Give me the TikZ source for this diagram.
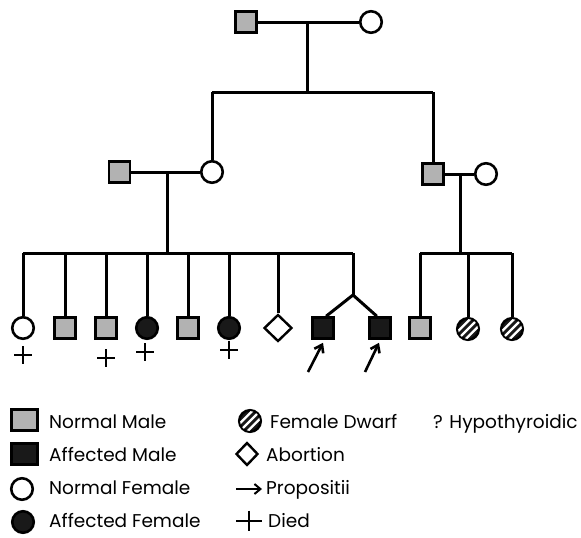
\documentclass[tikz,border=0pt]{standalone}
\usepackage{fontspec}
\setmainfont{Poppins}
\usetikzlibrary{shapes.geometric,arrows.meta,calc}
\begin{document}
\begin{tikzpicture}[x=1pt,y=-1pt,
  male/.style={rectangle,draw,line width=2.6pt,fill=gray!60,minimum size=21pt,inner sep=0pt},
  amale/.style={male,fill=black!90},
  female/.style={circle,draw,line width=2.6pt,fill=white,minimum size=21.5pt,inner sep=0pt},
  afemale/.style={female,fill=black!90},
  dwarf/.style={female,fill=black!90},
  abortion/.style={diamond,draw,line width=2.4pt,minimum width=28pt,minimum height=27pt,inner sep=0pt},
  link/.style={line width=3pt},
  prop/.style={line width=2.6pt,-{Straight Barb[length=7pt,width=10pt]}},
  lbl/.style={anchor=base west,font=\fontsize{18.5}{20}\selectfont,inner sep=0pt},
  deathmark/.pic={\draw[line width=2.6pt] (-9,0) -- (9,0) (0,-9) -- (0,9);},
]
\useasboundingbox (0,0) rectangle (581,538);
\newcommand\dwarfstripes[1]{%
  \begin{scope}[shift={(#1.center)}]
    \clip (0,0) circle (10);
    \foreach \d in {-5.5,0,5.5}
      \draw[white,line width=2.2pt] (\d*0.7071-15,\d*0.7071+15) -- ++(30,-30);
  \end{scope}}

% Generation I
\node[male] (gf) at (246,22) {};
\node[female] (gm) at (371,22) {};
\draw[link] (gf) -- (gm);
\coordinate (mar1) at (307,22);
\coordinate (sib1) at (307,92);
\coordinate (sib1l) at (212,92);
\coordinate (sib1r) at (433,92);
\draw[link] (mar1) -- (sib1);
\draw[link] (sib1l) -- (sib1r);

% Generation II
\node[male] (f2) at (119.5,172) {};
\node[female] (m2) at (212,172) {};
\node[male] (f3) at (433,174) {};
\node[female] (m3) at (486,174) {};
\draw[link] (sib1l) -- (m2);
\draw[link] (sib1r) -- (f3);
\draw[link] (f2) -- (m2);
\draw[link] (f3) -- (m3);
\coordinate (mar2) at (167,172);
\coordinate (sib2) at (167,253);
\coordinate (mar3) at (460,174);
\coordinate (sib3) at (460,253);
\draw[link] (mar2) -- (sib2);
\draw[link] (mar3) -- (sib3);

% Generation III, left family
\node[female] (c1) at (23,328) {};
\node[male] (c2) at (65,328) {};
\node[male] (c3) at (106,328) {};
\node[afemale] (c4) at (147,328) {};
\node[male] (c5) at (188,328) {};
\node[afemale] (c6) at (229,328) {};
\node[abortion] (c7) at (278,328) {};
\node[amale] (t1) at (323,328) {};
\node[amale] (t2) at (380,328) {};
\coordinate (twl) at (353,253);
\coordinate (tw) at (353,295);
\draw[link] (c1.north |- sib2) -- (twl);
\foreach \c in {c1,c2,c3,c4,c5,c6,c7}
  \draw[link] (\c.north |- sib2) -- (\c.north);
\draw[link] (twl) -- (tw);
\draw[link] (tw) -- (t1.75);
\draw[link] (tw) -- (t2.105);

% Generation III, right family
\node[male] (r1) at (420,328) {};
\node[dwarf] (r2) at (468,329) {};
\node[dwarf] (r3) at (512,329) {};
\dwarfstripes{r2}
\dwarfstripes{r3}
\draw[link] (r1.north |- sib3) -- (r3.north |- sib3);
\foreach \c in {r1,r2,r3}
  \draw[link] (\c.north |- sib3) -- (\c.north);

% deaths
\pic (x1) at (23,355) {deathmark};
\pic (x2) at (106,358) {deathmark};
\pic (x3) at (145,352) {deathmark};
\pic (x4) at (229,350) {deathmark};

% propositi arrows
\coordinate (a1) at (308,372);
\coordinate (a2) at (365,372);
\draw[prop] (a1) -- ($(t1.south)+(0,3)$);
\draw[prop] (a2) -- ($(t2.south)+(-1,3)$);

% Legend
\node[male,minimum width=26pt,minimum height=21pt] (lg1) at (24.5,420) {};
\node[amale,minimum width=26pt,minimum height=21pt] (lg2) at (24.5,454) {};
\node[female] (lg3) at (22,489) {};
\node[afemale] (lg4) at (23,522) {};
\node[lbl] (t_lg1) at (49,428) {Normal Male};
\node[lbl] (t_lg2) at (49,461) {Affected Male};
\node[lbl] (t_lg3) at (49,494) {Normal Female};
\node[lbl] (t_lg4) at (49,527) {Affected Female};

\node[dwarf] (lg5) at (250,421) {};
\dwarfstripes{lg5}
\node[abortion,minimum width=22pt,minimum height=23pt] (lg6) at (247,454) {};
\coordinate (lg7a) at (236,489);
\coordinate (lg7b) at (262,489);
\draw[line width=2pt,-{Straight Barb[length=6pt,width=10pt]}] (lg7a) -- (lg7b);
\pic[xscale=1.4,yscale=1.15] (lg8) at (249,521) {deathmark};
\node[lbl] (t_lg5) at (270,428) {Female Dwarf};
\node[lbl] (t_lg6) at (266,461) {Abortion};
\node[lbl] (t_lg7) at (266,494) {Propositii};
\node[lbl] (t_lg8) at (268,527) {Died};
\node[lbl] (t_lg9) at (433,428) {? Hypothyroidic};
\end{tikzpicture}
\end{document}
